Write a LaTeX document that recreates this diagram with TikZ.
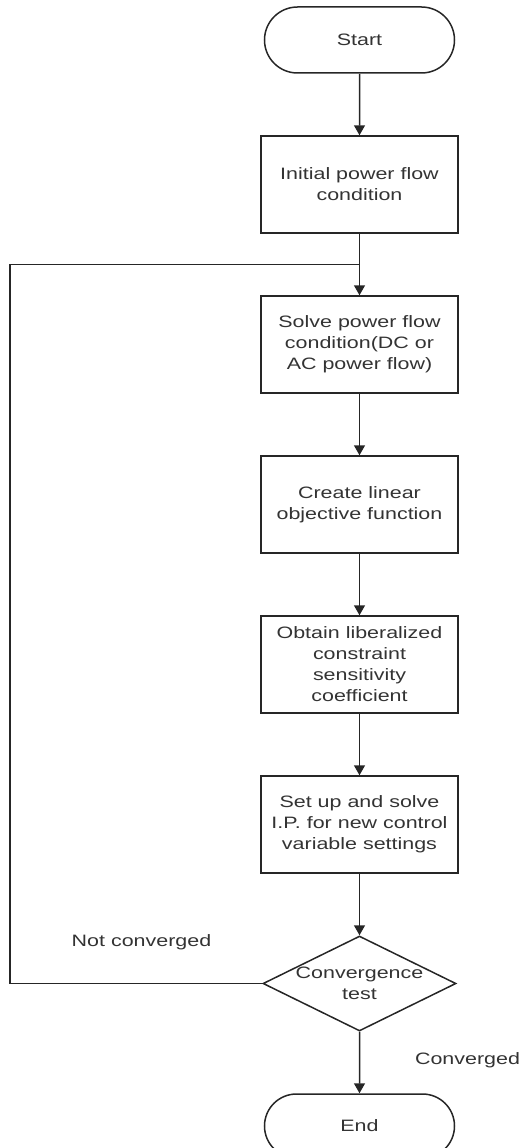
\documentclass[tikz,border=0pt]{standalone}
\usepackage{fontspec}
\setmainfont{Liberation Sans}[FakeStretch=1.3]
\usetikzlibrary{chains, scopes, shapes.misc, shapes.geometric, arrows.meta, calc}
\tikzset{
  % basic settings for every block in the chain
  flow/.style={%
    draw=black!85,
    line width=1.5pt,
    text=black!80,
    align=center,
    inner sep=4pt,
    on chain,           % belongs to the chain
    join,               % arrow from the previous block
    font=\fontsize{16.5}{21}\selectfont
  },
  % the block types
  terminal/.style={flow, rounded rectangle, minimum width=198pt, minimum height=66pt},
  process/.style={flow, rectangle, minimum width=197pt, minimum height=97pt},
  decision/.style={flow, diamond, minimum width=193pt, minimum height=95pt, inner sep=0pt},
  wire/.style={draw=black!85, line width=1.5pt},
  note/.style={text=black!80, font=\fontsize{16.5}{21}\selectfont}
}

\begin{document}
\begin{tikzpicture}[
  x=1pt, y=1pt,
  start chain=going below,    % every block goes under the previous one
  node distance=61.5pt,       % gap between the blocks
  every join/.style={-{Triangle[width=11pt,length=10pt]}, wire}
  ]
  \useasboundingbox (-359.5,40) rectangle (166.5,-1108);

  % --- the blocks ---

  \node [terminal] (start)  {Start};

  \node [process]  (init)   {Initial power flow\\condition};

  \node [process]  (solve)  {Solve power flow\\condition(DC or\\AC power flow)};

  \node [process]  (create) {Create linear\\objective function};

  \node [process]  (obtain) {Obtain liberalized\\constraint\\sensitivity\\coefficient};

  \node [process]  (setup)  {Set up and solve\\I.P. for new control\\variable settings};

  \node [decision, label={[note, align=center]center:Convergence\\test}] (test) {};

  \node [terminal, minimum height=64pt] (stop) {End};

  % --- the loop back ---
  \coordinate (merge) at ($(init.south)!0.5!(solve.north)$);
  \draw [wire] (test.west) -- ++(-252,0) |- (merge);

  \node [note] (notconv) at (-218,-902)  {Not converged};
  \node [note] (conv)    at (108,-1020)  {Converged};

\end{tikzpicture}
\end{document}
